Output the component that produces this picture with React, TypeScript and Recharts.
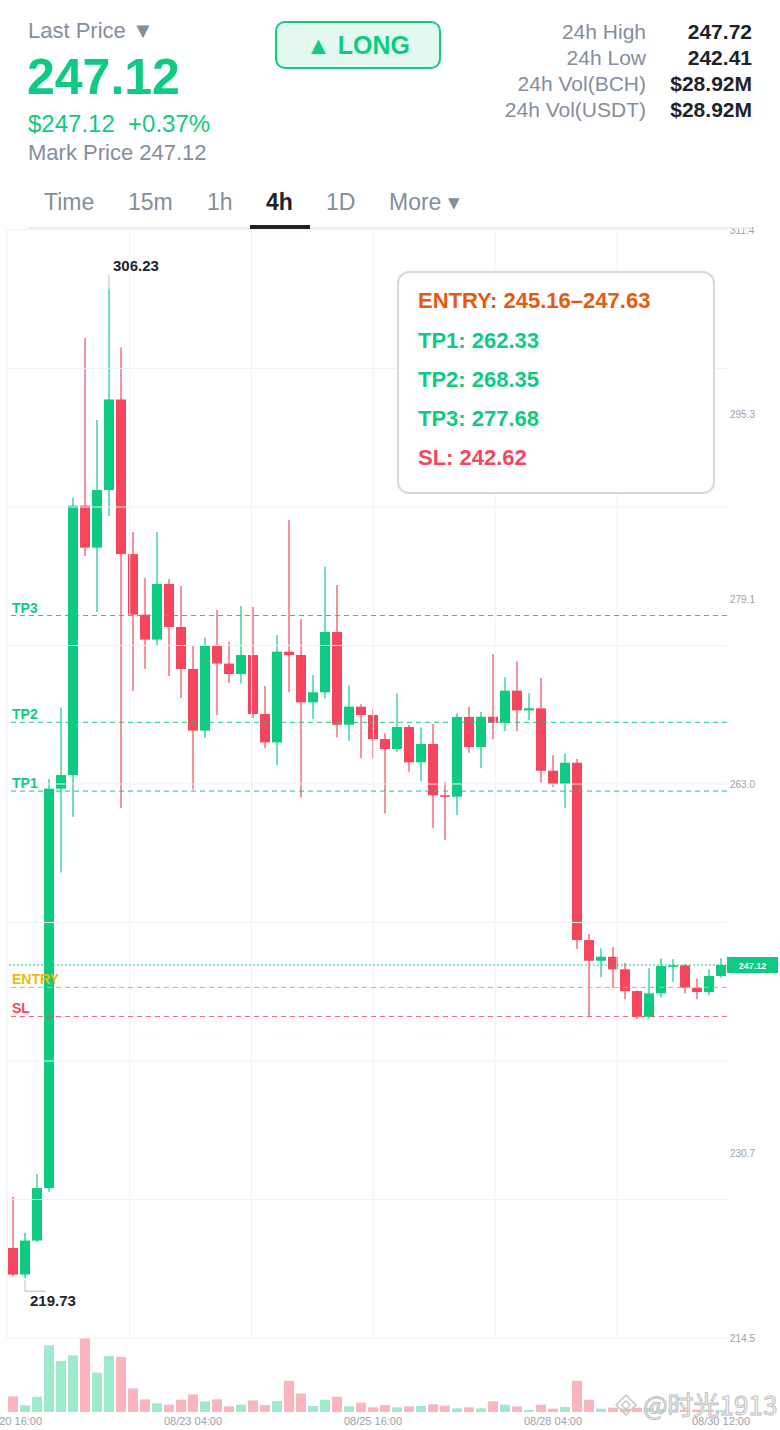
import React from "react";
import { ComposedChart, Bar, Cell, XAxis, YAxis, ReferenceLine } from "recharts";

// 4h candles, 08/20 16:00 .. 08/30 12:00
const opens = [
  222.37, 220.05, 223.02, 227.61, 262.54, 263.73, 287.3, 283.62, 288.66, 296.58,
  283.06, 277.76, 275.58, 280.44, 276.68, 273.01, 267.62, 275.02, 273.48, 272.57,
  274.23, 269.07, 266.59, 274.52, 274.23, 270.09, 270.97, 276.24, 268.14, 269.71,
  268.98, 266.88, 266.01, 267.93, 264.85, 266.45, 261.96, 261.84, 268.81, 266.18,
  268.83, 268.31, 271.11, 269.39, 269.57, 264.11, 262.95, 264.81, 249.3, 247.49,
  247.84, 246.74, 244.84, 242.6, 244.64, 246.97, 247.09, 245.13, 244.76, 246.16,
];
const highs = [
  226.86, 223.71, 228.84, 263.38, 269.63, 287.96, 301.95, 294.78, 306.23, 301.12,
  284.99, 280.96, 284.99, 280.88, 280.26, 275.1, 275.75, 278.17, 275.36, 278.52,
  278.43, 271.52, 275.98, 286.04, 277.38, 272.48, 281.95, 280.35, 271.58, 269.92,
  269.48, 267.38, 270.88, 268.1, 267.91, 268.2, 263.1, 269.13, 269.71, 269.27,
  274.32, 272.28, 273.68, 270.88, 272.22, 265.46, 265.63, 265.13, 249.83, 248.58,
  248.69, 247.32, 244.9, 246.83, 247.7, 247.64, 247.2, 245.95, 246.74, 247.72,
];
const lows = [
  219.9, 219.73, 222.9, 227.3, 255.21, 260.06, 282.89, 277.99, 286.39, 260.85,
  271.08, 273.01, 275.1, 272.4, 270.47, 262.47, 266.97, 268.98, 271.78, 271.74,
  268.72, 266.07, 264.61, 270.97, 261.78, 268.63, 270.44, 267.03, 266.73, 265.2,
  265.2, 260.38, 265.77, 264.02, 263.21, 259.07, 258.05, 260.24, 265.69, 264.32,
  266.86, 267.58, 267.56, 268.54, 263.06, 262.71, 260.87, 248.52, 242.62, 246.04,
  245.13, 244.12, 242.41, 242.41, 244.27, 245.66, 244.64, 244.12, 244.47, 246.0,
];
const closes = [
  220.05, 223.02, 227.61, 262.54, 263.73, 287.3, 283.62, 288.66, 296.58, 283.06,
  277.76, 275.58, 280.44, 276.68, 273.01, 267.62, 275.02, 273.48, 272.57, 274.23,
  269.07, 266.59, 274.52, 274.23, 270.09, 270.97, 276.24, 268.14, 269.71, 268.98,
  266.88, 266.01, 267.93, 264.85, 266.45, 261.96, 261.84, 268.81, 266.18, 268.83,
  268.31, 271.11, 269.39, 269.57, 264.11, 262.95, 264.81, 249.3, 247.49, 247.84,
  246.74, 244.84, 242.6, 244.64, 247.03, 247.09, 245.13, 244.76, 246.16, 247.12,
];
const volumes = [
  47, 20, 46, 201, 154, 171, 223, 119, 169, 166,
  71, 38, 26, 22, 37, 53, 32, 38, 17, 22,
  35, 21, 33, 94, 56, 18, 37, 46, 17, 28,
  14, 21, 14, 17, 18, 23, 19, 11, 14, 11,
  32, 22, 17, 6, 22, 10, 15, 94, 37, 10,
  13, 10, 13, 13, 9, 7, 7, 7, 7, 5,
];

const timeTicks = [0, 15, 30, 45, 59];
const timeLabels = ["08/20 16:00", "08/23 04:00", "08/25 16:00", "08/28 04:00", "08/30 12:00"];

const priceDomain = [214.5, 311.4];
// 246.8 sits under the last-price tag
const priceTicks = [311.4, 295.25, 279.1, 262.95, 230.65, 214.5];
const gridCols = [-0.5, 9.73, 19.88, 30.03, 40.18, 50.33];

const lastPrice = 247.12;
const entryLow = 245.16;
const entryHigh = 247.63;
const tp1 = 262.33;
const tp2 = 268.35;
const tp3 = 277.68;
const sl = 242.62;

const stats = [
  ["24h High", "247.72"],
  ["24h Low", "242.41"],
  ["24h Vol(BCH)", "$28.92M"],
  ["24h Vol(USDT)", "$28.92M"],
];
const tabs = ["Time", "15m", "1h", "4h", "1D", "More ▾"];

const GREEN = "#0ecb81";
const RED = "#f6465d";
const YELLOW = "#f0b90b";
const GRAY = "#848e9c";
const DARK = "#1e2329";
const GRID = "#eff1f3";
const FONT = "'Liberation Sans', Arial, sans-serif";

const candles = opens.map((o, i) => ({
  i,
  open: o,
  high: highs[i],
  low: lows[i],
  close: closes[i],
  range: [lows[i], highs[i]],
  volume: volumes[i],
}));

const hiIdx = highs.indexOf(Math.max(...highs));
const loIdx = lows.indexOf(Math.min(...lows));

const gridRows = Array.from({ length: 9 }, (_, k) => priceDomain[1] - (k * (priceDomain[1] - priceDomain[0])) / 8);

function Candle(props: any) {
  const { x, y, width, height, payload } = props;
  if (!payload) return null;
  const { open, close, high, low, i } = payload;
  const top0 = Math.min(y, y + height);
  const h = Math.abs(height);
  const k = high > low ? h / (high - low) : 0;
  const yOf = (v: number) => top0 + (high - v) * k;
  const bTop = yOf(Math.max(open, close));
  const bBot = yOf(Math.min(open, close));
  const color = close >= open ? GREEN : RED;
  const cx = x + width / 2;
  return (
    <g>
      <line x1={cx} x2={cx} y1={top0} y2={top0 + h} stroke={color} strokeWidth={1.2} />
      <rect x={x} y={bTop} width={width} height={Math.max(bBot - bTop, 1.5)} fill={color} />
      {i === hiIdx && (
        <g>
          <line x1={cx} x2={cx} y1={top0 - 14} y2={top0} stroke="#b7bdc6" strokeWidth={1} />
          <text x={cx + 4} y={top0 - 24} fill={DARK} fontSize={15} fontWeight={700} dominantBaseline="central">
            {high.toFixed(2)}
          </text>
        </g>
      )}
      {i === loIdx && (
        <g>
          <polyline
            points={`${cx},${top0 + h + 2} ${cx},${top0 + h + 13} ${cx + 21},${top0 + h + 13}`}
            fill="none"
            stroke="#b7bdc6"
            strokeWidth={1}
          />
          <text x={cx + 5} y={top0 + h + 22} fill={DARK} fontSize={15} fontWeight={700} dominantBaseline="central">
            {low.toFixed(2)}
          </text>
        </g>
      )}
    </g>
  );
}

function LevelTag(props: any) {
  const vb = props.viewBox || { x: 0, y: 0 };
  return (
    <text x={vb.x + 5} y={vb.y - 8} fill={props.color} fontSize={14} fontWeight={700} dominantBaseline="central">
      {props.text}
    </text>
  );
}

function PriceTag(props: any) {
  const vb = props.viewBox || { x: 0, y: 0, width: 0 };
  const x0 = vb.x + vb.width;
  return (
    <g>
      <rect x={x0} y={vb.y - 8} width={51} height={16} fill={GREEN} />
      <text x={x0 + 25.5} y={vb.y + 0.5} fill="#fff" fontSize={9} fontWeight={700} textAnchor="middle" dominantBaseline="central">
        {lastPrice.toFixed(2)}
      </text>
    </g>
  );
}

const abs = (left: number, top: number, extra: React.CSSProperties = {}): React.CSSProperties => ({
  position: "absolute",
  left,
  top,
  lineHeight: 1,
  whiteSpace: "pre",
  ...extra,
});

export default function App() {
  const rowCenters = [31, 57, 83, 109];
  const tabLefts = [44, 128, 207, 266, 326, 389];
  const boxLines = [
    { t: `ENTRY: ${entryLow.toFixed(2)}–${entryHigh.toFixed(2)}`, c: "#e8590c" },
    { t: `TP1: ${tp1.toFixed(2)}`, c: GREEN },
    { t: `TP2: ${tp2.toFixed(2)}`, c: GREEN },
    { t: `TP3: ${tp3.toFixed(2)}`, c: GREEN },
    { t: `SL: ${sl.toFixed(2)}`, c: RED },
  ];
  const boxCenters = [301, 341, 380, 419, 458];

  return (
    <div style={{ position: "absolute", left: 0, top: 0, width: 780, height: 1430, background: "#fff", fontFamily: FONT, overflow: "hidden" }}>
      {/* header */}
      <div style={abs(28, 20, { fontSize: 22, color: GRAY })}>Last Price ▼</div>
      <div style={abs(27, 52, { fontSize: 50, fontWeight: 700, color: GREEN })}>{lastPrice.toFixed(2)}</div>
      <div style={abs(28, 112, { fontSize: 24, color: GREEN })}>{`$${lastPrice.toFixed(2)}  +0.37%`}</div>
      <div style={abs(28, 142, { fontSize: 22, color: GRAY })}>{`Mark Price ${lastPrice.toFixed(2)}`}</div>

      <div
        style={{
          position: "absolute",
          left: 275,
          top: 21,
          width: 166,
          height: 48,
          boxSizing: "border-box",
          border: `2px solid ${GREEN}`,
          borderRadius: 10,
          background: "#e3f8ef",
          color: GREEN,
          fontSize: 25,
          fontWeight: 700,
          display: "flex",
          alignItems: "center",
          justifyContent: "center",
        }}
      >
        ▲ LONG
      </div>

      {stats.map(([k, v], n) => (
        <React.Fragment key={k}>
          <div style={abs(396, rowCenters[n] - 10.3, { width: 250, textAlign: "right", fontSize: 21, color: GRAY })}>{k}</div>
          <div style={abs(652, rowCenters[n] - 10.3, { width: 100, textAlign: "right", fontSize: 21, fontWeight: 700, color: DARK })}>{v}</div>
        </React.Fragment>
      ))}

      {tabs.map((t, n) => (
        <div key={t} style={abs(tabLefts[n], 191, { fontSize: 23, color: t === "4h" ? DARK : GRAY, fontWeight: t === "4h" ? 700 : 400 })}>
          {t}
        </div>
      ))}

      {/* volume panel */}
      <div style={{ position: "absolute", left: 0, top: 1338, width: 780, height: 92 }}>
        <ComposedChart width={780} height={92} data={candles} margin={{ top: 0, right: 53, bottom: 0, left: 7 }} style={{ fontFamily: FONT }}>
          <XAxis
            dataKey="i"
            type="category"
            ticks={timeTicks}
            interval={0}
            tickFormatter={(v: number) => timeLabels[timeTicks.indexOf(v)] || ""}
            axisLine={false}
            tickLine={false}
            tickSize={0}
            tickMargin={5}
            height={18}
            tick={{ fontSize: 11, fill: "#9aa1ab" }}
          />
          <YAxis hide domain={[0, Math.max(...volumes)]} />
          <Bar dataKey="volume" barSize={10} isAnimationActive={false}>
            {candles.map((c) => (
              <Cell key={c.i} fill={c.close >= c.open ? GREEN : RED} fillOpacity={0.4} />
            ))}
          </Bar>
        </ComposedChart>
      </div>

      {/* price panel */}
      <div style={{ position: "absolute", left: 0, top: 225, width: 780, height: 1125, overflow: "hidden" }}>
        <ComposedChart width={780} height={1125} data={candles} margin={{ top: 5, right: 0, bottom: 12, left: 7 }} style={{ fontFamily: FONT }}>
          <XAxis dataKey="i" type="category" hide />
          <XAxis xAxisId="g" dataKey="i" type="number" domain={[-0.5, 59.5]} hide allowDataOverflow />
          <YAxis
            orientation="right"
            domain={priceDomain}
            ticks={priceTicks}
            interval={0}
            allowDataOverflow
            width={53}
            axisLine={false}
            tickLine={false}
            tickSize={0}
            tickMargin={3}
            tick={{ fontSize: 10, fill: "#9aa1ab" }}
            tickFormatter={(v: number) => (v + 1e-9).toFixed(1)}
          />
          {gridRows.map((p) => (
            <ReferenceLine key={"r" + p} y={p} stroke={GRID} strokeWidth={1} />
          ))}
          {gridCols.map((c) => (
            <ReferenceLine key={"c" + c} xAxisId="g" x={c} stroke={GRID} strokeWidth={1} />
          ))}
          <ReferenceLine y={tp3} stroke={GREEN} strokeDasharray="5 4" label={<LevelTag text="TP3" color={GREEN} />} />
          <ReferenceLine y={tp2} stroke={GREEN} strokeDasharray="5 4" label={<LevelTag text="TP2" color={GREEN} />} />
          <ReferenceLine y={tp1} stroke={GREEN} strokeDasharray="5 4" label={<LevelTag text="TP1" color={GREEN} />} />
          <ReferenceLine y={entryLow} stroke={YELLOW} strokeDasharray="5 4" label={<LevelTag text="ENTRY" color={YELLOW} />} />
          <ReferenceLine y={sl} stroke={RED} strokeOpacity={0.85} strokeDasharray="5 4" label={<LevelTag text="SL" color={RED} />} />
          <ReferenceLine y={lastPrice} stroke={GREEN} strokeDasharray="2 2" label={<PriceTag />} />
          <Bar dataKey="range" barSize={10} isAnimationActive={false} shape={(p: any) => <Candle {...p} />} />
        </ComposedChart>
      </div>

      {/* tab bar bottom edge sits over the chart's top */}
      <div style={{ position: "absolute", left: 0, top: 220, width: 780, height: 7, background: "#fff" }} />
      <div style={{ position: "absolute", left: 28, top: 227, width: 724, height: 2, background: "#eaecef" }} />
      <div style={{ position: "absolute", left: 250, top: 225, width: 60, height: 4, background: DARK }} />

      {/* signal box */}
      <div
        style={{
          position: "absolute",
          left: 397,
          top: 271,
          width: 318,
          height: 223,
          boxSizing: "border-box",
          border: "2px solid #d5d8dc",
          borderRadius: 12,
          background: "#fff",
        }}
      />
      {boxLines.map((l, n) => (
        <div key={l.t} style={abs(418, boxCenters[n] - 10.8, { fontSize: 22, fontWeight: 700, color: l.c })}>
          {l.t}
        </div>
      ))}

      {/* watermark */}
      <svg style={{ position: "absolute", left: 610, top: 1389 }} width={32} height={32} viewBox="0 0 32 32">
        <g fill="none" stroke="#c4c4c4" strokeWidth={1.5} opacity={0.9}>
          <rect x={9} y={9} width={14} height={14} transform="rotate(45 16 16)" />
          <rect x={13} y={13} width={6} height={6} transform="rotate(45 16 16)" />
        </g>
      </svg>
      <div
        style={abs(643, 1391, {
          fontSize: 26,
          fontFamily: "'Noto Sans CJK SC', sans-serif",
          color: "rgba(255,255,255,0.75)",
          WebkitTextStroke: "1px #bdbdbd",
        } as React.CSSProperties)}
      >
        @时光1913
      </div>
    </div>
  );
}
